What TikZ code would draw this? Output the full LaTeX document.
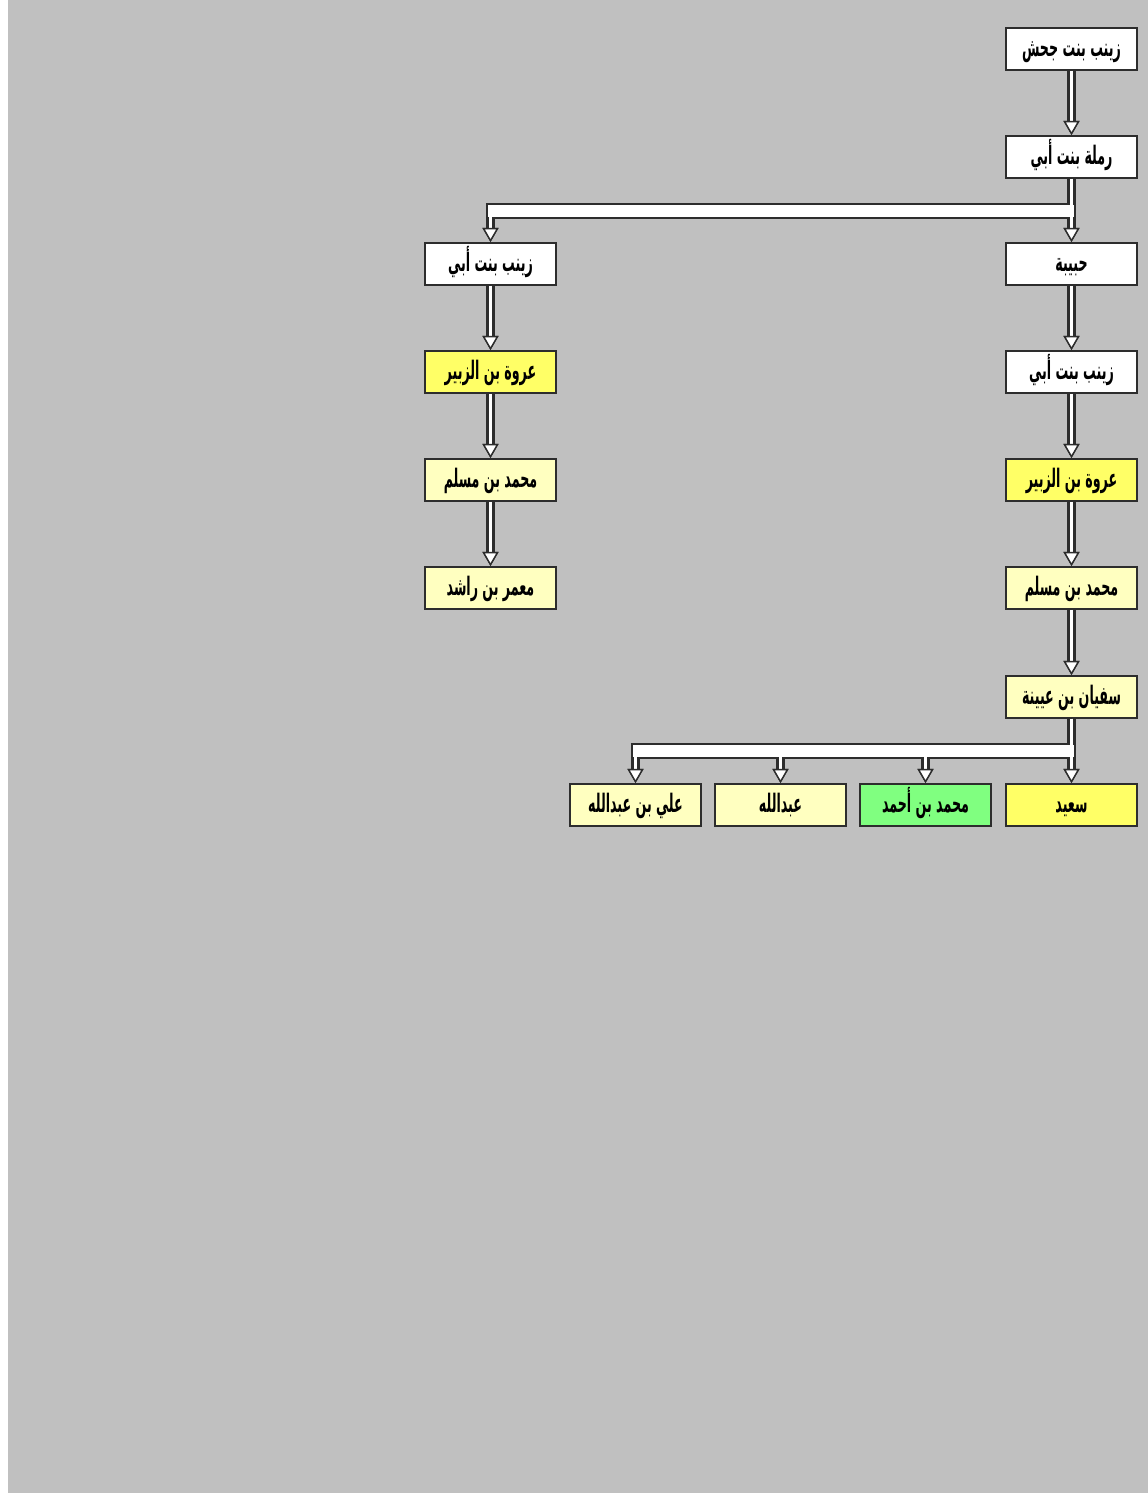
\documentclass[tikz,border=0pt]{standalone}
\usepackage{fontspec}
\usepackage{graphicx}
\usepackage{xcolor}
\usetikzlibrary{arrows.meta}
\newfontfamily\arabicfont[Script=Arabic]{DejaVu Sans}
\TeXXeTstate=1
\newcommand{\artext}[1]{\scalebox{0.72}[1.45]{\beginR #1\endR}}

\definecolor{bggray}{RGB}{192,192,192}
\definecolor{edgegray}{RGB}{45,45,45}
\definecolor{paleyellow}{RGB}{255,255,192}
\definecolor{brightyellow}{RGB}{255,255,102}
\definecolor{palegreen}{RGB}{128,255,128}

\tikzset{
  person/.style={draw=edgegray, line width=1.1pt, fill=white,
    minimum width=2.62cm, minimum height=0.84cm, inner sep=0pt,
    text height=12pt, text depth=4pt,
    font=\arabicfont\bfseries\fontsize{10}{12}\selectfont},
  chain/.style={-{Triangle[open, fill=white, length=8pt, width=9pt,
    line width=0.8pt, color=edgegray]}},
}

\begin{document}
\begin{tikzpicture}[x=0.02cm, y=-0.02cm]
        % Page and background
        \useasboundingbox (0,0) rectangle (1148,1493);
        \fill[bggray] (8,0) rectangle (1148,1493);

        % Right column
        \node[person] (zaynab) at (1071.5,49) {\artext{زينب بنت جحش}};
        \node[person] (ramla) at (1071.5,157) {\artext{رملة بنت أبي}};
        \node[person] (habiba) at (1071.5,264) {\artext{حبيبة}};
        \node[person] (zaynabA) at (1071.5,372) {\artext{زينب بنت أبي}};
        \node[person, fill=brightyellow] (urwaA) at (1071.5,480) {\artext{عروة بن الزبير}};
        \node[person, fill=paleyellow] (muhammadA) at (1071.5,588) {\artext{محمد بن مسلم}};
        \node[person, fill=paleyellow] (sufyan) at (1071.5,697) {\artext{سفيان بن عيينة}};

        % Left column
        \node[person] (zaynabB) at (490.5,264) {\artext{زينب بنت أبي}};
        \node[person, fill=brightyellow] (urwaB) at (490.5,372) {\artext{عروة بن الزبير}};
        \node[person, fill=paleyellow] (muhammadB) at (490.5,480) {\artext{محمد بن مسلم}};
        \node[person, fill=paleyellow] (mamar) at (490.5,588) {\artext{معمر بن راشد}};

        % Bottom row
        \node[person, fill=brightyellow] (said) at (1071.5,805) {\artext{سعيد}};
        \node[person, fill=palegreen] (ahmad) at (925.5,805) {\artext{محمد بن أحمد}};
        \node[person, fill=paleyellow] (abdallah) at (780.5,805) {\artext{عبدالله}};
        \node[person, fill=paleyellow] (ali) at (635.5,805) {\artext{علي بن عبدالله}};

        % Fork points of the two branchings
        \path (ramla.south) ++(0,32) coordinate (forkA);
        \path (sufyan.south) ++(0,32) coordinate (forkB);

        % Connectors: dark pass, then white pass (keeps the branch points open)
        \foreach \w/\rw/\rs/\col in {4.6pt/9pt/-2.6pt/edgegray, 2.2pt/6.8pt/-1.4pt/white}{
          % wide rails
          \draw[line width=\rw, \col, shorten <=\rs, shorten >=\rs] (zaynabB.north |- forkA) -- (forkA);
          \draw[line width=\rw, \col, shorten <=\rs, shorten >=\rs] (ali.north |- forkB) -- (forkB);
          % arrows
          \draw[chain, line width=\w, \col] (zaynab.south) -- (ramla.north);
          \draw[chain, line width=\w, \col] (ramla.south) -- (forkA) -| (zaynabB.north);
          \draw[chain, line width=\w, \col] (ramla.south) -- (habiba.north);
          \draw[chain, line width=\w, \col] (habiba.south) -- (zaynabA.north);
          \draw[chain, line width=\w, \col] (zaynabA.south) -- (urwaA.north);
          \draw[chain, line width=\w, \col] (urwaA.south) -- (muhammadA.north);
          \draw[chain, line width=\w, \col] (muhammadA.south) -- (sufyan.north);
          \draw[chain, line width=\w, \col] (zaynabB.south) -- (urwaB.north);
          \draw[chain, line width=\w, \col] (urwaB.south) -- (muhammadB.north);
          \draw[chain, line width=\w, \col] (muhammadB.south) -- (mamar.north);
          \draw[chain, line width=\w, \col] (sufyan.south) -- (forkB) -| (ali.north);
          \draw[chain, line width=\w, \col] (sufyan.south) -- (forkB) -| (abdallah.north);
          \draw[chain, line width=\w, \col] (sufyan.south) -- (forkB) -| (ahmad.north);
          \draw[chain, line width=\w, \col] (sufyan.south) -- (said.north);
        }
\end{tikzpicture}
\end{document}
